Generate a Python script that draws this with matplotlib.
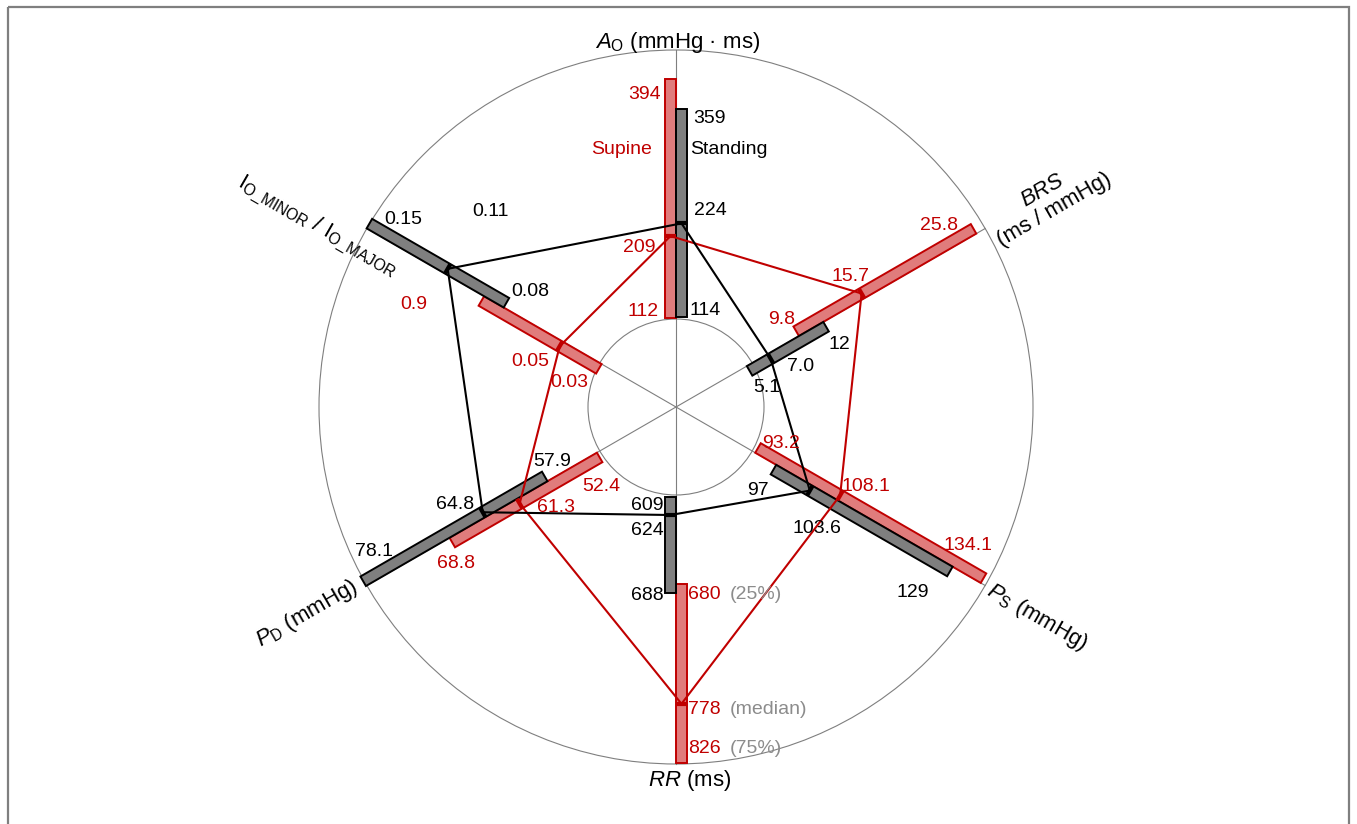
import numpy as np
import matplotlib.pyplot as plt
from matplotlib.patches import Polygon, Circle, Rectangle

plt.rcParams['font.family'] = ['Liberation Sans', 'DejaVu Sans']
plt.rcParams['mathtext.fontset'] = 'custom'
plt.rcParams['mathtext.rm'] = 'Liberation Sans'
plt.rcParams['mathtext.it'] = 'Liberation Sans:italic'

RED = "#c00000"
RED_FILL = "#e07c7c"
GRAY_FILL = "#7f7f7f"
NOTE_GRAY = "#8c8c8c"

# ---------------------------------------------------------------------------
# data: interquartile ranges and medians per haemodynamic variable
# ---------------------------------------------------------------------------
axis_titles = [
    r"$A_{\mathrm{O}}$ (mmHg · ms)",
    "$BRS$\n(ms / mmHg)",
    r"$P_{\mathrm{S}}$ (mmHg)",
    r"$RR$ (ms)",
    r"$P_{\mathrm{D}}$ (mmHg)",
    r"I$_{\mathrm{O\_MINOR}}$ / I$_{\mathrm{O\_MAJOR}}$",
]
axis_angles = [90, 30, -30, -90, 210, 150]

supine_q25 = [112, 9.8, 93.2, 680, 52.4, 0.03]
supine_med = [209, 15.7, 108.1, 778, 61.3, 0.05]
supine_q75 = [394, 25.8, 134.1, 826, 68.8, 0.09]

standing_q25 = [114, 5.1, 97, 609, 57.9, 0.08]
standing_med = [224, 7.0, 103.6, 624, 64.8, 0.11]
standing_q75 = [359, 12, 129, 688, 78.1, 0.15]

supine_txt = [["112", "209", "394"], ["9.8", "15.7", "25.8"],
              ["93.2", "108.1", "134.1"], ["680", "778", "826"],
              ["52.4", "61.3", "68.8"], ["0.03", "0.05", "0.9"]]
standing_txt = [["114", "224", "359"], ["5.1", "7.0", "12"],
                ["97", "103.6", "129"], ["609", "624", "688"],
                ["57.9", "64.8", "78.1"], ["0.08", "0.11", "0.15"]]

quartile_notes = ["(25%)", "(median)", "(75%)"]

# ---------------------------------------------------------------------------
# layout (pixels): value range mapped from centre to outer ring per axis
# ---------------------------------------------------------------------------
W, H = 1357, 824
CX, CY = 676, 407
R_OUT, R_IN = 357, 88
BAR_W = 11

axis_domain = [(7.3, 428.6), (-1.29, 26.6), (78.83, 134.9),
               (535.9, 827.1), (43.6, 78.0), (-0.008, 0.1499)]
title_pos = [(365, 89.7), (426, 29.0), (418, -30.2),
             (374, -87.9), (423, 209.2), (402, 153.4)]
title_rot = [0, 30, -30, 0, 30, -30]

supine_off = [[(-33, -7), (-37, 11), (-31, 15)],
              [(-17, -17), (-14, -22), (-37, -8)],
              [(26, -9), (29, -14), (-13, -37)],
              [(28, 11), (28, 6), (28, -14)],
              [(4, 34), (39, 9), (6, 26)],
              [(-32, 18), (-32, 20), (-70, 8)]]
standing_off = [[(29, -6), (34, -13), (33, 10)],
                [(20, 21), (33, 13), (16, 23)],
                [(-18, 26), (4, 43), (-40, 26)],
                [(-29, 9), (-29, 15), (-29, 2)],
                [(5, -20), (-30, -13), (8, -35)],
                [(27, -16), (46, -62), (37, -9)]]


def unit(angle):
    a = np.deg2rad(angle)
    return np.array([np.cos(a), -np.sin(a)]), np.array([-np.sin(a), -np.cos(a)])


def to_xy(i, value, side=0.0):
    """Point on axis i at the given value, shifted sideways by `side` px."""
    lo, hi = axis_domain[i]
    r = R_OUT * (value - lo) / (hi - lo)
    u, p = unit(axis_angles[i])
    return np.array([CX, CY]) + u * r + p * side


fig = plt.figure(figsize=(W / 100, H / 100), dpi=100)
ax = fig.add_axes([0, 0, 1, 1])
ax.set_xlim(0, W)
ax.set_ylim(H, 0)
ax.axis("off")

ax.add_patch(Rectangle((8, 7), W - 16, H + 20, fill=False,
                       edgecolor="#7f7f7f", lw=1.6, zorder=0))

# rings and spokes
for rad in (R_IN, R_OUT):
    ax.add_patch(Circle((CX, CY), rad, fill=False, edgecolor="#7f7f7f",
                        lw=0.8, zorder=1))
for ang in axis_angles:
    u, _ = unit(ang)
    ax.plot([CX, CX + u[0] * R_OUT], [CY, CY + u[1] * R_OUT],
            color="#7f7f7f", lw=0.8, zorder=1)

series = [
    (supine_q25, supine_med, supine_q75, supine_txt, supine_off,
     RED_FILL, RED, RED, 1.0),
    (standing_q25, standing_med, standing_q75, standing_txt, standing_off,
     GRAY_FILL, "black", "black", -1.0),
]

for q25, med, q75, txt, off, fill, edge, tcol, sgn in series:
    verts = []
    for i in range(len(axis_angles)):
        s0, s1 = 0.0, sgn * BAR_W
        bar = [to_xy(i, q25[i], s0), to_xy(i, q75[i], s0),
               to_xy(i, q75[i], s1), to_xy(i, q25[i], s1)]
        ax.add_patch(Polygon(bar, closed=True, facecolor=fill,
                             edgecolor=edge, lw=1.4, zorder=2))
        m0, m1 = to_xy(i, med[i], s0), to_xy(i, med[i], s1)
        ax.plot([m0[0], m1[0]], [m0[1], m1[1]], color=edge, lw=3,
                solid_capstyle="butt", zorder=4)
        verts.append(to_xy(i, med[i], sgn * BAR_W / 2))

        for k, v in enumerate((q25[i], med[i], q75[i])):
            x, y = to_xy(i, v) + np.array(off[i][k])
            ax.text(x, y, txt[i][k], color=tcol, fontsize=14,
                    ha="center", va="center", zorder=5)
    verts.append(verts[0])
    verts = np.array(verts)
    ax.plot(verts[:, 0], verts[:, 1], color=edge, lw=1.5, zorder=3)

# quartile notes beside the supine RR labels
rr = axis_angles.index(-90)
for k, v in enumerate((supine_q25[rr], supine_med[rr], supine_q75[rr])):
    x, y = to_xy(rr, v) + np.array(supine_off[rr][k])
    ax.text(x + 26, y, quartile_notes[k], color=NOTE_GRAY, fontsize=14,
            ha="left", va="center", zorder=5)

# series names next to the top axis
sx, sy = CX, CY - 258
ax.text(sx - 24, sy, "Supine", color=RED, fontsize=14, ha="right", va="center")
ax.text(sx + 14, sy, "Standing", color="black", fontsize=14, ha="left",
        va="center")

# axis titles
for i, title in enumerate(axis_titles):
    r, ang = title_pos[i]
    u, _ = unit(ang)
    ax.text(CX + u[0] * r, CY + u[1] * r, title, fontsize=16,
            rotation=title_rot[i], rotation_mode="anchor",
            ha="center", va="center", multialignment="center",
            linespacing=1.1)

fig.savefig("out.png", dpi=100)
